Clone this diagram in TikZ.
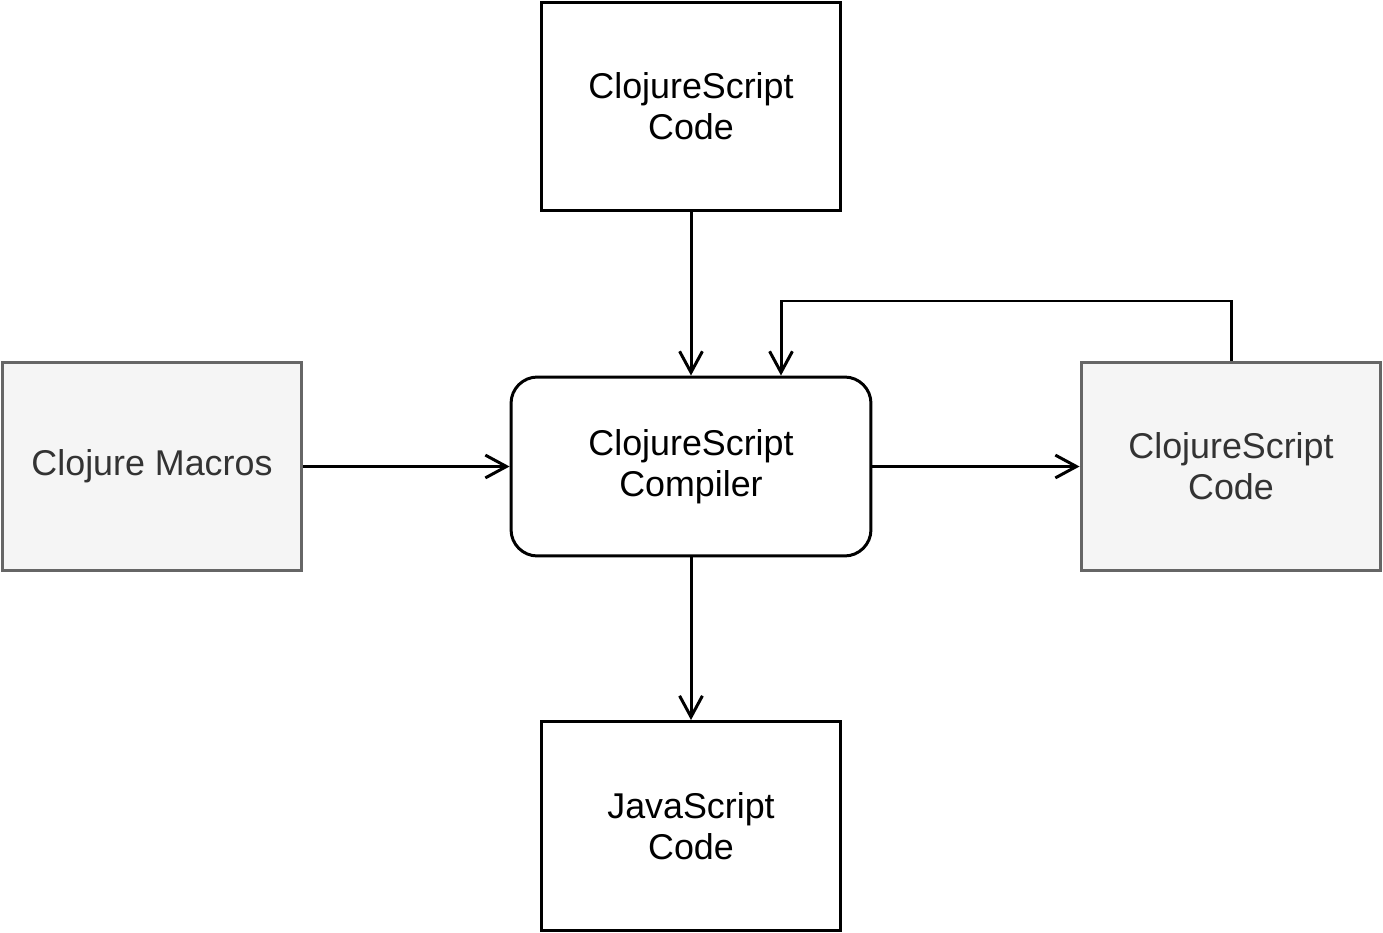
\documentclass[tikz,border=0pt]{standalone}
\usepackage{fontspec}
\setmainfont{Liberation Sans}
\usetikzlibrary{arrows.meta}

\definecolor{extfill}{HTML}{F5F5F5}
\definecolor{extline}{HTML}{666666}
\definecolor{exttext}{HTML}{333333}

\begin{document}
\begin{tikzpicture}[x=0.02cm,y=-0.02cm,
    block/.style={draw,line width=1.7pt,minimum width=6cm,minimum height=4.18cm,
        inner sep=0pt,align=center,font=\fontsize{20.4}{23.3}\selectfont},
    ext/.style={block,fill=extfill,draw=extline,text=exttext},
    compiler/.style={block,rounded corners=15pt,minimum width=7.2cm,minimum height=3.58cm},
    flow/.style={-{Straight Barb[length=12pt,width=13pt]},line width=1.7pt}]
    \useasboundingbox (0,0) rectangle (1383,933);

    % Compiler in the middle
    \node [compiler] (compiler) at (691,466.5) {ClojureScript\\Compiler};

    % Inputs and outputs
    \node [block] (source) at (691,106.5) {ClojureScript\\Code};
    \node [ext] (macros) at (152,466.5) {Clojure Macros};
    \node [ext] (expanded) at (1231,466.5) {ClojureScript\\Code};
    \node [block] (js) at (691,826) {JavaScript\\Code};

    % Flow
    \draw[flow] (source) -- (compiler);
    \draw[flow] (macros) -- (compiler);
    \draw[flow] (compiler) -- (expanded);
    \draw[flow] (compiler) -- (js);

    % Feedback loop
    \coordinate (loop) at (781,301);
    \draw[flow] (expanded.north) |- (loop) -- (loop |- compiler.north);
\end{tikzpicture}
\end{document}
